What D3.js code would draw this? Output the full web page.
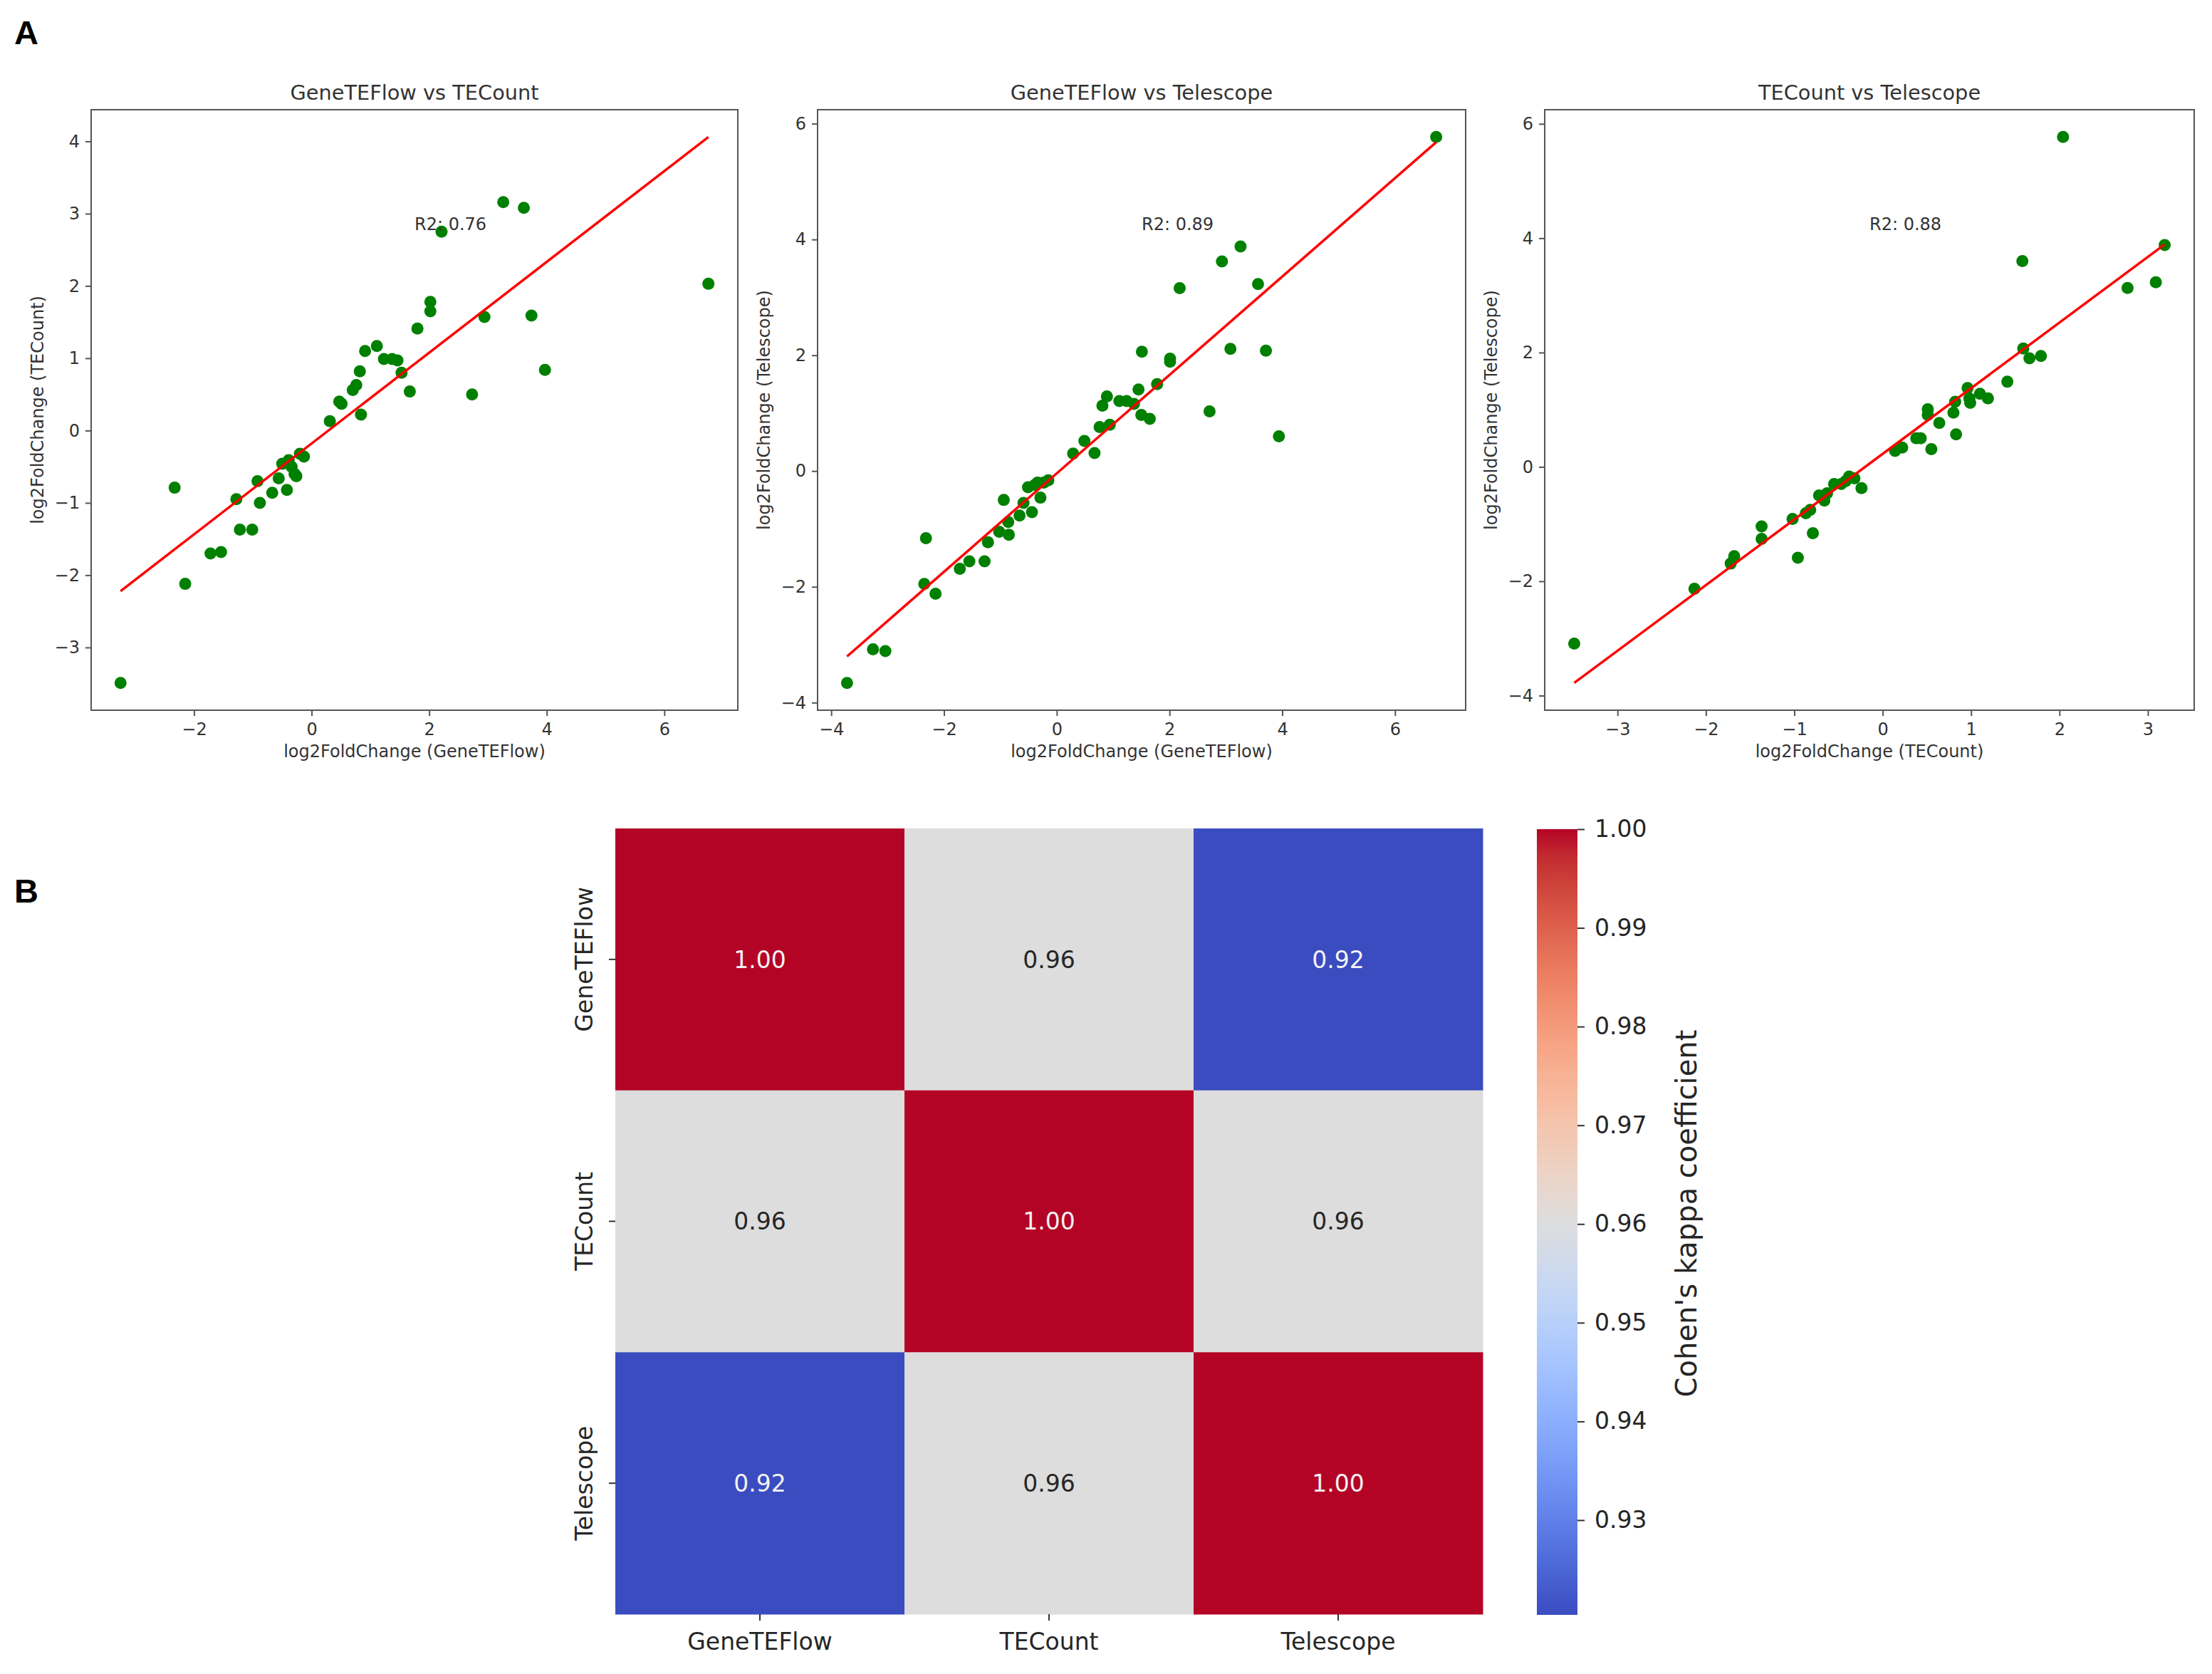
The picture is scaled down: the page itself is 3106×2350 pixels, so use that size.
<!DOCTYPE html>
<html>
<head>
<meta charset="utf-8">
<script src="https://cdn.jsdelivr.net/npm/d3@7"></script>
<style>
  body { margin: 0; background: #fff; }
  svg { display: block; font-family: "DejaVu Sans", sans-serif; }
</style>
</head>
<body>
<svg id="chart"></svg>
<script>
// ---- data ----
const p1x = [-3.25,-2.33,-2.15,-1.72,-1.54,-1.28,-1.22,-1.01,-0.92,-0.88,-0.67,-0.56,-0.50,-0.42,-0.39,-0.34,-0.29,-0.26,-0.20,-0.13,0.31,0.47,0.51,0.70,0.76,0.82,0.84,0.91,1.11,1.23,1.37,1.46,1.53,1.67,1.80,2.02,2.02,2.21,2.73,2.94,3.26,3.61,3.74,3.97,6.75]
const p1y = [-3.49,-0.79,-2.12,-1.70,-1.68,-0.95,-1.37,-1.37,-0.70,-1.00,-0.86,-0.66,-0.46,-0.82,-0.41,-0.50,-0.60,-0.63,-0.32,-0.36,0.13,0.40,0.37,0.56,0.63,0.82,0.22,1.10,1.17,0.99,0.99,0.97,0.80,0.54,1.41,1.78,1.65,2.75,0.50,1.57,3.16,3.08,1.59,0.84,2.03]

const p2x = [-3.72,-3.26,-3.04,-2.32,-2.35,-2.15,-1.72,-1.55,-1.28,-1.22,-1.02,-0.94,-0.86,-0.85,-0.66,-0.59,-0.51,-0.44,-0.39,-0.34,-0.29,-0.23,-0.15,0.29,0.49,0.67,0.76,0.81,0.89,0.94,1.11,1.24,1.37,1.45,1.51,1.50,1.65,1.78,2.01,2.01,2.18,2.71,2.93,3.08,3.26,3.57,3.71,3.94,6.73]
const p2y = [-3.66,-3.08,-3.11,-1.16,-1.95,-2.12,-1.69,-1.56,-1.56,-1.23,-1.05,-0.50,-0.88,-1.10,-0.77,-0.55,-0.28,-0.71,-0.24,-0.20,-0.46,-0.20,-0.16,0.30,0.52,0.31,0.76,1.13,1.29,0.80,1.21,1.21,1.16,1.41,2.06,0.97,0.90,1.50,1.94,1.89,3.16,1.03,3.62,2.11,3.88,3.23,2.08,0.60,5.77]

const p3x = [-3.49,-2.13,-1.72,-1.68,-1.37,-1.37,-1.02,-0.96,-0.87,-0.82,-0.79,-0.72,-0.66,-0.63,-0.55,-0.47,-0.42,-0.38,-0.32,-0.24,0.14,0.22,0.38,0.43,0.51,0.51,0.55,0.64,0.80,0.82,0.83,0.96,0.98,0.99,1.10,1.19,1.41,1.58,1.59,1.66,1.79,2.04,2.77,3.09,3.19]
const p3y = [-3.09,-2.13,-1.69,-1.56,-1.04,-1.26,-0.91,-1.59,-0.81,-0.75,-1.16,-0.50,-0.59,-0.46,-0.30,-0.30,-0.25,-0.17,-0.20,-0.37,0.28,0.34,0.50,0.50,1.01,0.91,0.31,0.77,0.95,1.14,0.57,1.38,1.20,1.12,1.28,1.20,1.49,3.60,2.07,1.90,1.94,5.77,3.13,3.23,3.88]

const panelTitles = ["GeneTEFlow vs TECount", "GeneTEFlow vs Telescope", "TECount vs Telescope"]
const panelXLabels = ["log2FoldChange (GeneTEFlow)", "log2FoldChange (GeneTEFlow)", "log2FoldChange (TECount)"]
const panelYLabels = ["log2FoldChange (TECount)", "log2FoldChange (Telescope)", "log2FoldChange (Telescope)"]
const fitSlopes = [0.628, 0.850, 1.148]
const fitIntercepts = [-0.179, -0.04, 0.229]
const r2Values = [0.76, 0.89, 0.88]
const xTicks = [[-2, 0, 2, 4, 6], [-4, -2, 0, 2, 4, 6], [-3, -2, -1, 0, 1, 2, 3]]
const yTicks = [[-3, -2, -1, 0, 1, 2, 3, 4], [-4, -2, 0, 2, 4, 6], [-4, -2, 0, 2, 4, 6]]

const methods = ["GeneTEFlow", "TECount", "Telescope"]
const kappa = [
  [1.00, 0.9602, 0.9204],
  [0.9602, 1.00, 0.9602],
  [0.9204, 0.9602, 1.00]
]
const kappaTicks = [0.93, 0.94, 0.95, 0.96, 0.97, 0.98, 0.99, 1.00]

// matplotlib "coolwarm" (Moreland) control colours
const coolwarmStops = [[59,76,192],[68,90,204],[77,104,215],[87,117,225],[98,130,234],[108,142,241],[119,154,247],[130,165,251],[141,176,254],[152,185,255],[163,194,255],[174,201,253],[184,208,249],[194,213,244],[204,217,238],[213,219,230],[221,221,221],[229,216,209],[236,211,197],[241,204,185],[245,196,173],[247,187,160],[247,177,148],[247,166,135],[244,154,123],[241,141,111],[236,127,99],[229,112,88],[222,96,77],[213,80,66],[203,62,56],[192,40,47],[180,4,38]]

// ---- layout ----
const svgWidth = 3106
const svgHeight = 2350
const panelLefts = [128, 1148, 2169]
const panelRights = [1036, 2058, 3081]
const panelTop = 154
const panelBottom = 997
const textColor = "#333"
const spineColor = "#555"

const svg = d3.select("#chart")
  .attr("width", svgWidth)
  .attr("height", svgHeight)

svg.append("rect").attr("width", svgWidth).attr("height", svgHeight).attr("fill", "#fff")

const panelData = [[p1x, p1y], [p2x, p2y], [p3x, p3y]]

function padded(values) {
  const [lo, hi] = d3.extent(values)
  const m = (hi - lo) * 0.05
  return [lo - m, hi + m]
}

function styleAxis(g, size) {
  g.select(".domain").remove()
  g.selectAll(".tick line").attr("stroke", spineColor).attr("stroke-width", 2)
  g.selectAll(".tick text").attr("fill", textColor).attr("font-size", size)
    .attr("font-family", "DejaVu Sans")
}

panelData.forEach(([xs, ys], i) => {
  const left = panelLefts[i], right = panelRights[i]
  const slope = fitSlopes[i], intercept = fitIntercepts[i]
  const lineX = d3.extent(xs)
  const lineY = lineX.map(v => slope * v + intercept)

  const xScale = d3.scaleLinear().domain(padded(xs)).range([left, right])
  const yScale = d3.scaleLinear().domain(padded(ys.concat(lineY))).range([panelBottom, panelTop])

  const g = svg.append("g")

  g.append("g")
    .attr("transform", `translate(0,${panelBottom})`)
    .call(d3.axisBottom(xScale).tickValues(xTicks[i]).tickSize(8).tickPadding(10).tickFormat(d3.format("d")))
    .call(a => styleAxis(a, 24))

  g.append("g")
    .attr("transform", `translate(${left},0)`)
    .call(d3.axisLeft(yScale).tickValues(yTicks[i]).tickSize(8).tickPadding(8).tickFormat(d3.format("d")))
    .call(a => styleAxis(a, 24))

  g.selectAll(".pt")
    .data(xs.map((v, k) => ({ x: v, y: ys[k] })))
    .join("circle")
    .attr("class", "pt")
    .attr("cx", d => xScale(d.x))
    .attr("cy", d => yScale(d.y))
    .attr("r", 8.5)
    .attr("fill", "#008000")

  g.append("line")
    .attr("x1", xScale(lineX[0])).attr("y1", yScale(lineY[0]))
    .attr("x2", xScale(lineX[1])).attr("y2", yScale(lineY[1]))
    .attr("stroke", "#ff0000")
    .attr("stroke-width", 3.5)

  g.append("rect")
    .attr("x", left).attr("y", panelTop)
    .attr("width", right - left).attr("height", panelBottom - panelTop)
    .attr("fill", "none").attr("stroke", spineColor).attr("stroke-width", 2)

  g.append("text")
    .text(`R2: ${r2Values[i].toFixed(2)}`)
    .attr("x", left + 0.5 * (right - left))
    .attr("y", panelBottom - 0.8 * (panelBottom - panelTop))
    .attr("font-size", 24)
    .attr("fill", textColor)

  g.append("text")
    .text(panelTitles[i])
    .attr("x", (left + right) / 2)
    .attr("y", 140)
    .attr("text-anchor", "middle")
    .attr("font-size", 28.8)
    .attr("fill", textColor)

  g.append("text")
    .text(panelXLabels[i])
    .attr("x", (left + right) / 2)
    .attr("y", 1063)
    .attr("text-anchor", "middle")
    .attr("font-size", 24)
    .attr("fill", textColor)

  g.append("text")
    .text(panelYLabels[i])
    .attr("transform", `translate(${left - 67},${(panelTop + panelBottom) / 2}) rotate(-90)`)
    .attr("text-anchor", "middle")
    .attr("font-size", 24)
    .attr("fill", textColor)
})

// ---- heatmap (B) ----
const hmLeft = 864, hmRight = 2082, hmTop = 1163, hmBottom = 2266
const xBand = d3.scaleBand().domain(methods).range([hmLeft, hmRight])
const yBand = d3.scaleBand().domain(methods).range([hmTop, hmBottom])
const coolwarm = d3.piecewise(d3.interpolateRgb, coolwarmStops.map(c => d3.rgb(c[0], c[1], c[2])))
const flat = kappa.flat()
const vmin = d3.min(flat), vmax = d3.max(flat)
const color = d3.scaleSequential(coolwarm).domain([vmin, vmax])

const cells = []
methods.forEach((rowName, r) => {
  methods.forEach((colName, c) => {
    cells.push({ row: rowName, col: colName, value: kappa[r][c] })
  })
})

const hm = svg.append("g")
hm.selectAll(".cell")
  .data(cells)
  .join("rect")
  .attr("class", "cell")
  .attr("x", d => xBand(d.col))
  .attr("y", d => yBand(d.row))
  .attr("width", xBand.bandwidth() + 0.5)
  .attr("height", yBand.bandwidth() + 0.5)
  .attr("fill", d => color(d.value))

hm.selectAll(".annot")
  .data(cells)
  .join("text")
  .attr("class", "annot")
  .attr("x", d => xBand(d.col) + xBand.bandwidth() / 2)
  .attr("y", d => yBand(d.row) + yBand.bandwidth() / 2)
  .attr("dy", "0.36em")
  .attr("text-anchor", "middle")
  .attr("font-size", 33)
  .attr("fill", d => {
    const c = d3.rgb(color(d.value))
    const lum = 0.2126 * c.r + 0.7152 * c.g + 0.0722 * c.b
    return lum > 140 ? "#262626" : "#f2f2f2"
  })
  .text(d => d3.format(".2f")(d.value))

// x ticks
hm.selectAll(".xt")
  .data(methods)
  .join("line")
  .attr("class", "xt")
  .attr("x1", d => xBand(d) + xBand.bandwidth() / 2)
  .attr("x2", d => xBand(d) + xBand.bandwidth() / 2)
  .attr("y1", hmBottom).attr("y2", hmBottom + 9)
  .attr("stroke", textColor).attr("stroke-width", 2)

hm.selectAll(".xl")
  .data(methods)
  .join("text")
  .attr("class", "xl")
  .attr("x", d => xBand(d) + xBand.bandwidth() / 2)
  .attr("y", 2316)
  .attr("text-anchor", "middle")
  .attr("font-size", 33)
  .attr("fill", "#262626")
  .text(d => d)

// y ticks
hm.selectAll(".yt")
  .data(methods)
  .join("line")
  .attr("class", "yt")
  .attr("x1", hmLeft - 9).attr("x2", hmLeft)
  .attr("y1", d => yBand(d) + yBand.bandwidth() / 2)
  .attr("y2", d => yBand(d) + yBand.bandwidth() / 2)
  .attr("stroke", textColor).attr("stroke-width", 2)

hm.selectAll(".yl")
  .data(methods)
  .join("text")
  .attr("class", "yl")
  .attr("transform", d => `translate(832,${yBand(d) + yBand.bandwidth() / 2}) rotate(-90)`)
  .attr("text-anchor", "middle")
  .attr("font-size", 33)
  .attr("fill", "#262626")
  .text(d => d)

// colorbar
const cbLeft = 2158, cbWidth = 57, cbTop = 1164, cbBottom = 2267
const cbScale = d3.scaleLinear().domain([vmin, vmax]).range([cbBottom, cbTop])

const defs = svg.append("defs")
const grad = defs.append("linearGradient")
  .attr("id", "cbgrad")
  .attr("x1", 0).attr("y1", 1).attr("x2", 0).attr("y2", 0)
grad.selectAll("stop")
  .data(coolwarmStops)
  .join("stop")
  .attr("offset", (d, k) => k / (coolwarmStops.length - 1))
  .attr("stop-color", d => d3.rgb(d[0], d[1], d[2]).formatHex())

svg.append("rect")
  .attr("x", cbLeft).attr("y", cbTop)
  .attr("width", cbWidth).attr("height", cbBottom - cbTop)
  .attr("fill", "url(#cbgrad)")

svg.append("g")
  .attr("transform", `translate(${cbLeft + cbWidth},0)`)
  .call(d3.axisRight(cbScale).tickValues(kappaTicks).tickSize(10).tickPadding(14).tickFormat(d3.format(".2f")))
  .call(a => {
    a.select(".domain").remove()
    a.selectAll(".tick line").attr("stroke", textColor).attr("stroke-width", 2)
    a.selectAll(".tick text").attr("fill", "#262626").attr("font-size", 33).attr("font-family", "DejaVu Sans")
  })

svg.append("text")
  .text("Cohen's kappa coefficient")
  .attr("transform", `translate(2382,${(cbTop + cbBottom) / 2 - 12}) rotate(-90)`)
  .attr("text-anchor", "middle")
  .attr("font-size", 40)
  .attr("fill", "#262626")

// panel letters
svg.append("text").text("A")
  .attr("x", 20).attr("y", 62)
  .attr("font-family", "Liberation Sans, Arial, sans-serif")
  .attr("font-weight", "bold").attr("font-size", 47).attr("fill", "#000")
svg.append("text").text("B")
  .attr("x", 20).attr("y", 1267)
  .attr("font-family", "Liberation Sans, Arial, sans-serif")
  .attr("font-weight", "bold").attr("font-size", 47).attr("fill", "#000")
</script>
</body>
</html>
